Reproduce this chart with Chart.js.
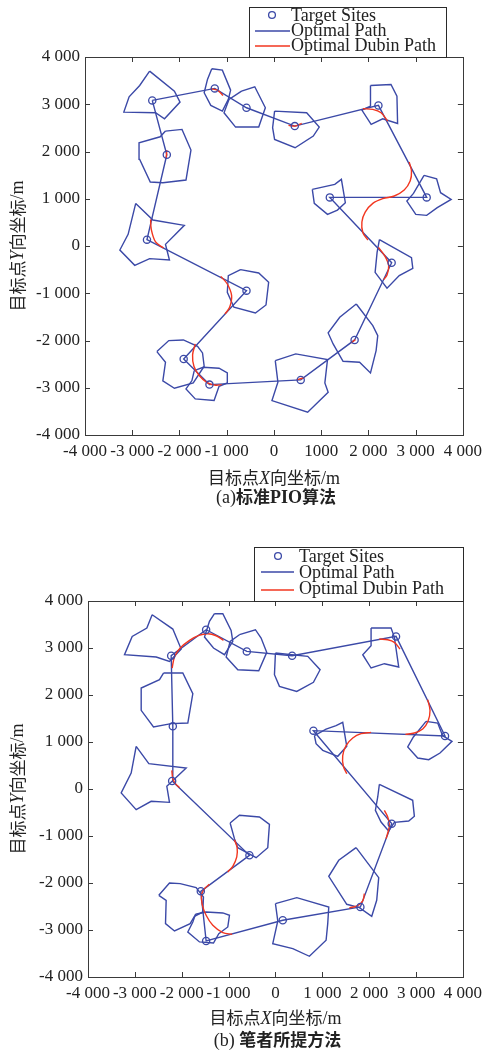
<!DOCTYPE html>
<html>
<head>
<meta charset="utf-8">
<script src="https://cdn.jsdelivr.net/npm/chart.js@4.4.1/dist/chart.umd.min.js"></script>
<style>
  html, body { margin: 0; padding: 0; background: #ffffff; }
  #wrap { position: relative; width: 488px; height: 1052px; }
  #wrap canvas { position: absolute; left: 0; }
</style>
</head>
<body>
<div id="wrap">
  <canvas id="chartA" width="488" height="526" style="top:0"></canvas>
  <canvas id="chartB" width="488" height="526" style="top:526px"></canvas>
</div>
<script>
// ===== (a) standard PIO =====
// target sites [x, y] in metres
const sitesA = [[-2576,3081],[-1253,3335],[-581,2926],[441,2538],[2212,2975],[-2268,1932],[1183,1029],[3234,1029],[-2688,134],[-581,-945],[2492,-353],[1708,-1988],[-1911,-2390],[-1365,-2933],[567,-2834]];
// visiting order (indices into sitesA)
const tourA = [0,1,2,3,4,7,6,10,11,14,13,12,9,8,5,0];
// threat zone outline around each site
const zonesA = [
  [[-2632,3701],[-2107,3278],[-1988,3046],[-2317,2693],[-2506,2820],[-3178,2834],[-3066,3158],[-2842,3398]],
  [[-1316,3751],[-1092,3722],[-917,3299],[-966,3102],[-1092,2855],[-1337,2975],[-1477,3243],[-1407,3525]],
  [[-686,3278],[-406,3370],[-182,2926],[-322,2517],[-812,2517],[-1057,2820],[-952,3102]],
  [[14,2855],[693,2820],[959,2517],[833,2327],[448,2080],[14,2256],[-28,2503]],
  [[2044,3398],[2478,3419],[2604,3173],[2618,2594],[2303,2693],[2058,2573],[1862,2876],[2044,2961]],
  [[-2296,2432],[-1946,2468],[-1757,2030],[-1862,1396],[-2352,1340],[-2618,1354],[-2842,1833],[-2856,2186],[-2408,2312]],
  [[812,1199],[1288,1304],[1428,1410],[1512,917],[1344,761],[1134,670],[854,902]],
  [[3178,1495],[3444,1424],[3528,1128],[3752,987],[3458,811],[3234,649],[3003,670],[2814,952],[2954,1114]],
  [[-2926,902],[-2562,550],[-1897,437],[-2296,35],[-2212,-296],[-2632,-268],[-2947,-409],[-3262,-85],[-3087,247]],
  [[-707,-501],[-322,-571],[-112,-768],[-168,-1248],[-392,-1417],[-847,-1297],[-987,-980],[-966,-627]],
  [[2233,134],[2912,-247],[2940,-472],[2653,-627],[2394,-895],[2142,-557],[2184,-134]],
  [[1743,-1227],[2093,-1685],[2198,-1896],[2163,-2214],[2044,-2686],[1813,-2460],[1463,-2439],[1253,-2073],[1148,-1840],[1393,-1509]],
  [[-2478,-2235],[-2226,-2002],[-1918,-1988],[-1617,-2122],[-1512,-2263],[-1477,-2545],[-1708,-2898],[-2107,-3010],[-2352,-2855],[-2296,-2460]],
  [[-1687,-2637],[-1498,-2566],[-1162,-2587],[-987,-2686],[-987,-2898],[-1162,-2968],[-1267,-3271],[-1666,-3236],[-1862,-3025],[-1736,-2848]],
  [[28,-2425],[462,-2284],[1134,-2404],[1078,-2898],[1148,-3095],[714,-3518],[-42,-3271],[84,-2883]]
];
// Dubins turning arcs
const dubinsA = [
  [[-1337,3328],[-1197,3299],[-1078,3187]],
  [[308,2552],[448,2538],[588,2594]],
  [[1883,2905],[2093,2891],[2268,2820],[2408,2644]],
  [[2863,1777],[2912,1586],[2884,1375],[2758,1184],[2548,1058],[2303,1001],[2093,902],[1932,719],[1862,508],[1883,282],[1988,127]],
  [[-2268,2030],[-2282,1847]],
  [[-2611,564],[-2597,353],[-2506,85],[-2338,-42]],
  [[-1127,-642],[-987,-804],[-896,-1050],[-938,-1297],[-1036,-1438]],
  [[2212,-28],[2352,-219],[2429,-416],[2394,-613],[2324,-712]],
  [[1638,-2052],[1722,-1981]],
  [[-1666,-2073],[-1722,-2305],[-1694,-2545],[-1582,-2742],[-1407,-2898],[-1232,-2947],[-1106,-2933]],
  [[483,-2834],[644,-2785]]
];
const xTicksA = ['-4 000','-3 000','-2 000','-1 000','0','1000','2 000','3 000','4 000'];
const yTicksA = ['-4 000','-3 000','-2 000','-1 000','0','1 000','2 000','3 000','4 000'];

// ===== (b) proposed method =====
const sitesB = [[-2225,2836],[-1479,3389],[-611,2928],[356,2836],[2574,3247],[-2190,1333],[811,1241],[3619,1127],[-2204,170],[-555,-1411],[2481,-737],[1813,-2510],[-1593,-2177],[-1479,-3233],[156,-2793]];
const tourB = [8,5,0,1,2,3,4,7,6,10,11,14,13,12,9,8];
const zonesB = [
  [[-2631,3708],[-2190,3403],[-2012,2978],[-2261,2715],[-2545,2808],[-3221,2857],[-3057,3247],[-2744,3424]],
  [[-1301,3729],[-1123,3729],[-946,3375],[-910,3141],[-1088,2857],[-1322,2999],[-1514,3233],[-1408,3566]],
  [[-768,3283],[-427,3389],[-306,3212],[-185,2907],[-356,2517],[-803,2538],[-1052,2808],[-967,3141]],
  [[0,2893],[690,2822],[953,2538],[811,2269],[455,2077],[85,2184],[-21,2432]],
  [[2041,3424],[2467,3424],[2538,3233],[2631,2595],[2325,2666],[2041,2574],[1863,2857],[2041,3049]],
  [[-2389,2467],[-1977,2467],[-1763,2028],[-1870,1404],[-2225,1390],[-2602,1319],[-2865,1673],[-2865,2148],[-2474,2326]],
  [[832,1134],[1081,1276],[1294,1347],[1436,1418],[1522,908],[1330,695],[1010,822],[867,964]],
  [[3214,1439],[3463,1404],[3569,1134],[3768,1014],[3512,766],[3271,624],[3036,659],[2823,893],[2944,1106]],
  [[-2972,907],[-2702,539],[-1905,447],[-2318,57],[-2261,-284],[-2652,-262],[-2972,-440],[-3292,-85],[-3079,340]],
  [[-967,-723],[-768,-560],[-341,-596],[-128,-752],[-164,-1248],[-412,-1461],[-803,-1248],[-875,-1056]],
  [[2218,99],[2929,-241],[2965,-581],[2844,-681],[2538,-709],[2417,-893],[2254,-702],[2133,-454],[2183,-170]],
  [[1721,-1248],[2204,-1886],[2161,-2368],[2055,-2708],[1792,-2524],[1522,-2453],[1138,-1858],[1351,-1517]],
  [[-2489,-2262],[-2261,-2000],[-2033,-2014],[-1692,-2099],[-1536,-2297],[-1550,-2616],[-1728,-2708],[-1820,-2864],[-2154,-3020],[-2346,-2864],[-2332,-2368]],
  [[-1706,-2665],[-1479,-2616],[-1123,-2637],[-981,-2687],[-1017,-2935],[-1209,-3077],[-1322,-3276],[-1621,-3254],[-1870,-3042],[-1763,-2829]],
  [[0,-2439],[455,-2311],[1138,-2510],[1116,-2864],[1081,-3219],[725,-3559],[370,-3396],[-57,-3290],[50,-2808]]
];
const dubinsB = [
  [[-2204,2574],[-2154,2808],[-2033,2999],[-1834,3162],[-1635,3268],[-1443,3304],[-1266,3261],[-1109,3162]],
  [[2218,3190],[2396,3176],[2538,3120],[2659,2978]],
  [[3249,1900],[3299,1673],[3256,1439],[3143,1276],[2965,1191],[2773,1163]],
  [[2041,1205],[1827,1177],[1650,1085],[1507,922],[1436,709],[1450,482],[1522,326]],
  [[-2211,397],[-2190,220],[-2133,113],[-2048,28]],
  [[-875,-1078],[-818,-1248],[-825,-1446],[-910,-1645],[-1017,-1765]],
  [[2325,-454],[2396,-596],[2432,-773],[2403,-915],[2361,-1056]],
  [[1898,-2226],[1863,-2382],[1756,-2482],[1578,-2531]],
  [[-1408,-2028],[-1514,-2120],[-1578,-2262],[-1564,-2453],[-1479,-2687],[-1337,-2900],[-1123,-3056],[-924,-3091]]
];
const xTicksB = ['-4 000','-3 000','-2 000','-1 000','0','1 000','2 000','3 000','4 000'];
const yTicksB = ['-4 000','-3 000','-2 000','-1 000','0','1 000','2 000','3 000','4 000'];

const legendLabels = ['Target Sites', 'Optimal Path', 'Optimal Dubin Path'];

// ----- styling -----
const BLUE = '#3b49a7';
const RED = '#f2361f';
const INK = '#222222';
const SERIF = '"Liberation Serif", "Times New Roman", serif';
const CJK = '"Noto Sans CJK SC", sans-serif';

const toPts = arr => arr.map(p => ({ x: p[0], y: p[1] }));

function buildDatasets(sites, tour, zones, dubins) {
  const ds = [];
  ds.push({
    label: legendLabels[0], data: toPts(sites), showLine: false,
    pointRadius: 3.6, pointStyle: 'circle', pointBorderWidth: 1.3,
    pointBorderColor: BLUE, pointBackgroundColor: 'rgba(0,0,0,0)', order: 0
  });
  dubins.forEach(seg => ds.push({
    label: legendLabels[2], data: toPts(seg), showLine: true, pointRadius: 0,
    borderColor: RED, borderWidth: 1.4, tension: 0.35, fill: false, order: 1
  }));
  ds.push({
    label: legendLabels[1], data: tour.map(i => ({ x: sites[i][0], y: sites[i][1] })),
    showLine: true, pointRadius: 0, borderColor: BLUE, borderWidth: 1.4, fill: false, order: 2
  });
  zones.forEach(poly => ds.push({
    label: 'zone', data: toPts(poly.concat([poly[0]])), showLine: true, pointRadius: 0,
    borderColor: BLUE, borderWidth: 1.4, fill: false, tension: 0, order: 3
  }));
  return ds;
}

function drawRich(ctx, parts, x, y, align) {
  let w = 0;
  parts.forEach(p => { ctx.font = p.f; w += ctx.measureText(p.t).width; });
  let cx = align === 'center' ? x - w / 2 : x;
  ctx.textAlign = 'left';
  parts.forEach(p => { ctx.font = p.f; ctx.fillText(p.t, cx, y); cx += ctx.measureText(p.t).width; });
}

function makeChart(id, spec) {
  const A = spec.area;
  const framePlugin = {
    id: 'frame_' + id,
    afterDraw(chart) {
      const ctx = chart.ctx;
      const xs = chart.scales.x, ys = chart.scales.y;
      const L = xs.left, R = xs.right, T = ys.top, B = ys.bottom;
      ctx.save();
      // axes box
      ctx.strokeStyle = '#3a3a3a';
      ctx.lineWidth = 1;
      ctx.strokeRect(Math.round(L) + 0.5, Math.round(T) + 0.5, Math.round(R - L), Math.round(B - T));
      // inward tick marks on all four sides
      const tl = 5;
      ctx.beginPath();
      for (let v = -4000; v <= 4000; v += 1000) {
        const px = Math.round(xs.getPixelForValue(v)) + 0.5;
        ctx.moveTo(px, B); ctx.lineTo(px, B - tl);
        ctx.moveTo(px, T); ctx.lineTo(px, T + tl);
        const py = Math.round(ys.getPixelForValue(v)) + 0.5;
        ctx.moveTo(L, py); ctx.lineTo(L + tl, py);
        ctx.moveTo(R, py); ctx.lineTo(R - tl, py);
      }
      ctx.stroke();

      // axis titles and caption
      ctx.fillStyle = INK;
      ctx.textBaseline = 'alphabetic';
      drawRich(ctx, [
        { t: '目标点', f: '17px ' + CJK },
        { t: 'X', f: 'italic 18px ' + SERIF },
        { t: '向坐标', f: '17px ' + CJK },
        { t: '/m', f: '18px ' + SERIF }
      ], (L + R) / 2, spec.xTitleY, 'center');
      drawRich(ctx, spec.caption, (L + R) / 2 + 2, spec.captionY, 'center');

      ctx.save();
      ctx.translate(spec.yTitleX, (T + B) / 2);
      ctx.rotate(-Math.PI / 2);
      ctx.textBaseline = 'middle';
      drawRich(ctx, [
        { t: '目标点', f: '17px ' + CJK },
        { t: 'Y', f: 'italic 18px ' + SERIF },
        { t: '向坐标', f: '17px ' + CJK },
        { t: '/m', f: '18px ' + SERIF }
      ], 0, 0, 'center');
      ctx.restore();

      // legend box
      const lg = spec.legend;
      ctx.fillStyle = '#ffffff';
      ctx.fillRect(lg.x0, lg.y0, lg.x1 - lg.x0, lg.y1 - lg.y0);
      ctx.strokeStyle = '#2a2a2a';
      ctx.lineWidth = 1;
      ctx.strokeRect(lg.x0 + 0.5, lg.y0 + 0.5, lg.x1 - lg.x0, lg.y1 - lg.y0);
      ctx.fillStyle = INK;
      ctx.font = '18px ' + SERIF;
      ctx.textBaseline = 'alphabetic';
      ctx.textAlign = 'left';
      legendLabels.forEach((lab, i) => ctx.fillText(lab, lg.tx, lg.base[i]));
      ctx.strokeStyle = BLUE;
      ctx.lineWidth = 1.3;
      ctx.beginPath();
      ctx.arc(lg.cx, lg.mid[0], 3.4, 0, Math.PI * 2);
      ctx.stroke();
      ctx.beginPath();
      ctx.moveTo(lg.lx0, lg.mid[1]); ctx.lineTo(lg.lx1, lg.mid[1]);
      ctx.stroke();
      ctx.strokeStyle = RED;
      ctx.beginPath();
      ctx.moveTo(lg.lx0, lg.mid[2]); ctx.lineTo(lg.lx1, lg.mid[2]);
      ctx.stroke();
      ctx.restore();
    }
  };

  return new Chart(document.getElementById(id), {
    type: 'scatter',
    data: { datasets: buildDatasets(spec.sites, spec.tour, spec.zones, spec.dubins) },
    options: {
      responsive: false,
      animation: false,
      events: [],
      layout: { padding: { left: 0, right: 488 - A.right, top: A.top, bottom: 526 - A.bottom - 30 } },
      plugins: { legend: { display: false }, tooltip: { enabled: false }, title: { display: false } },
      scales: {
        x: {
          type: 'linear', min: -4000, max: 4000,
          afterFit: s => { s.height = 30; },
          afterBuildTicks: s => { s.ticks = spec.xTicks.map((_, i) => ({ value: -4000 + i * 1000 })); },
          grid: { display: false, drawTicks: false },
          border: { display: false },
          ticks: {
            autoSkip: false, maxRotation: 0, minRotation: 0, padding: 6,
            color: INK, font: { family: SERIF, size: 17 },
            callback: (v) => spec.xTicks[Math.round((v + 4000) / 1000)]
          }
        },
        y: {
          type: 'linear', min: -4000, max: 4000,
          afterFit: s => { s.width = A.left; },
          afterBuildTicks: s => { s.ticks = spec.yTicks.map((_, i) => ({ value: -4000 + i * 1000 })); },
          grid: { display: false, drawTicks: false },
          border: { display: false },
          ticks: {
            autoSkip: false, padding: 5,
            color: INK, font: { family: SERIF, size: 17 },
            callback: (v) => spec.yTicks[Math.round((v + 4000) / 1000)]
          }
        }
      }
    },
    plugins: [framePlugin]
  });
}

makeChart('chartA', {
  sites: sitesA, tour: tourA, zones: zonesA, dubins: dubinsA,
  xTicks: xTicksA, yTicks: yTicksA,
  area: { left: 85, right: 466, top: 57, bottom: 435 },
  xTitleY: 484, captionY: 503, yTitleX: 18,
  caption: [
    { t: '(a)', f: '18px ' + SERIF },
    { t: '标准', f: 'bold 17px ' + CJK },
    { t: 'PIO', f: 'bold 18px ' + SERIF },
    { t: '算法', f: 'bold 17px ' + CJK }
  ],
  legend: { x0: 249, y0: 7, x1: 446, y1: 57, tx: 291, base: [21, 36, 51], mid: [15, 31, 46], cx: 272, lx0: 255, lx1: 290 }
});

makeChart('chartB', {
  sites: sitesB, tour: tourB, zones: zonesB, dubins: dubinsB,
  xTicks: xTicksB, yTicks: yTicksB,
  area: { left: 88, right: 463, top: 75, bottom: 451 },
  xTitleY: 498, captionY: 520, yTitleX: 18,
  caption: [
    { t: '(b) ', f: '18px ' + SERIF },
    { t: '笔者所提方法', f: 'bold 17px ' + CJK }
  ],
  legend: { x0: 254, y0: 21, x1: 463, y1: 75, tx: 299, base: [36, 52, 68], mid: [30, 46, 64], cx: 278, lx0: 261, lx1: 294 }
});
</script>
</body>
</html>
